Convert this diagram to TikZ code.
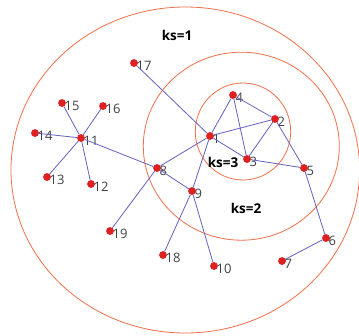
\documentclass[tikz,border=0pt]{standalone}
\usepackage{fontspec}
\setmainfont{Open Sans}
\definecolor{edgec}{HTML}{6560BE}
\definecolor{ringc}{HTML}{F0704A}
\definecolor{dotc}{HTML}{DD2020}
\definecolor{lblc}{HTML}{404040}
\begin{document}
\begin{tikzpicture}[x=1pt,y=-1pt,
  dot/.style={circle,fill=dotc,draw=none,minimum size=7.5pt,inner sep=0pt},
  lbl/.style={anchor=west,inner sep=0pt,xshift=-1.5pt,yshift=-3pt,text=lblc,font=\fontsize{13}{13}\selectfont},
  ring/.style={draw=ringc,line width=0.8pt},
  edge/.style={draw=edgec,line width=0.8pt},
  kslbl/.style={font=\fontsize{13.5}{13.5}\selectfont\bfseries,inner sep=0pt}]
\useasboundingbox (0,0) rectangle (359,335);
\fill[white] (0,0) rectangle (359,335);
% rings
\draw[ring] (185.3,170) ellipse [x radius=174.3pt, y radius=163pt];
\draw[ring] (241.3,146.2) ellipse [x radius=98pt, y radius=94pt];
\draw[ring] (243,131.5) ellipse [x radius=47.7pt, y radius=48.5pt];
% ring labels
\node[kslbl] (k1) at (177,35) {ks=1};
\node[kslbl] (k2) at (246,208) {ks=2};
\node[kslbl] (k3) at (223,162) {ks=3};
% nodes
\node[dot,label={[lbl]0:1}]  (n1)  at (210,136) {};
\node[dot,label={[lbl]0:2}]  (n2)  at (275,119) {};
\node[dot,label={[lbl]0:3}]  (n3)  at (247,159) {};
\node[dot,label={[lbl]0:4}]  (n4)  at (233,95)  {};
\node[dot,label={[lbl]0:5}]  (n5)  at (304,168) {};
\node[dot,label={[lbl]0:6}]  (n6)  at (326,238) {};
\node[dot,label={[lbl]0:7}]  (n7)  at (282,261) {};
\node[dot,label={[lbl]0:8}]  (n8)  at (157,168) {};
\node[dot,label={[lbl]0:9}]  (n9)  at (192,191) {};
\node[dot,label={[lbl]0:10}] (n10) at (214,266) {};
\node[dot,label={[lbl]0:11}] (n11) at (81,138)  {};
\node[dot,label={[lbl]0:12}] (n12) at (91,184)  {};
\node[dot,label={[lbl]0:13}] (n13) at (47,177)  {};
\node[dot,label={[lbl]0:14}] (n14) at (35,133)  {};
\node[dot,label={[lbl]0:15}] (n15) at (62,103)  {};
\node[dot,label={[lbl]0:16}] (n16) at (103,106) {};
\node[dot,label={[lbl]0:17}] (n17) at (134,63)  {};
\node[dot,label={[lbl]0:18}] (n18) at (163,255) {};
\node[dot,label={[lbl]0:19}] (n19) at (110,231) {};
% edges
\draw[edge] (n17) -- (n1);
\draw[edge] (n15) -- (n11);
\draw[edge] (n16) -- (n11);
\draw[edge] (n14) -- (n11);
\draw[edge] (n13) -- (n11);
\draw[edge] (n12) -- (n11);
\draw[edge] (n11) -- (n8);
\draw[edge] (n8) -- (n1);
\draw[edge] (n8) -- (n9);
\draw[edge] (n8) -- (n19);
\draw[edge] (n1) -- (n9);
\draw[edge] (n9) -- (n18);
\draw[edge] (n9) -- (n10);
\draw[edge] (n1) -- (n4);
\draw[edge] (n1) -- (n2);
\draw[edge] (n1) -- (n3);
\draw[edge] (n4) -- (n2);
\draw[edge] (n4) -- (n3);
\draw[edge] (n2) -- (n3);
\draw[edge] (n2) -- (n5);
\draw[edge] (n3) -- (n5);
\draw[edge] (n5) -- (n6);
\draw[edge] (n6) -- (n7);
% redraw dots on top
\foreach \n in {n1,n2,n3,n4,n5,n6,n7,n8,n9,n10,n11,n12,n13,n14,n15,n16,n17,n18,n19}
  \fill[dotc] (\n.center) circle (3.75pt);
\end{tikzpicture}
\end{document}
